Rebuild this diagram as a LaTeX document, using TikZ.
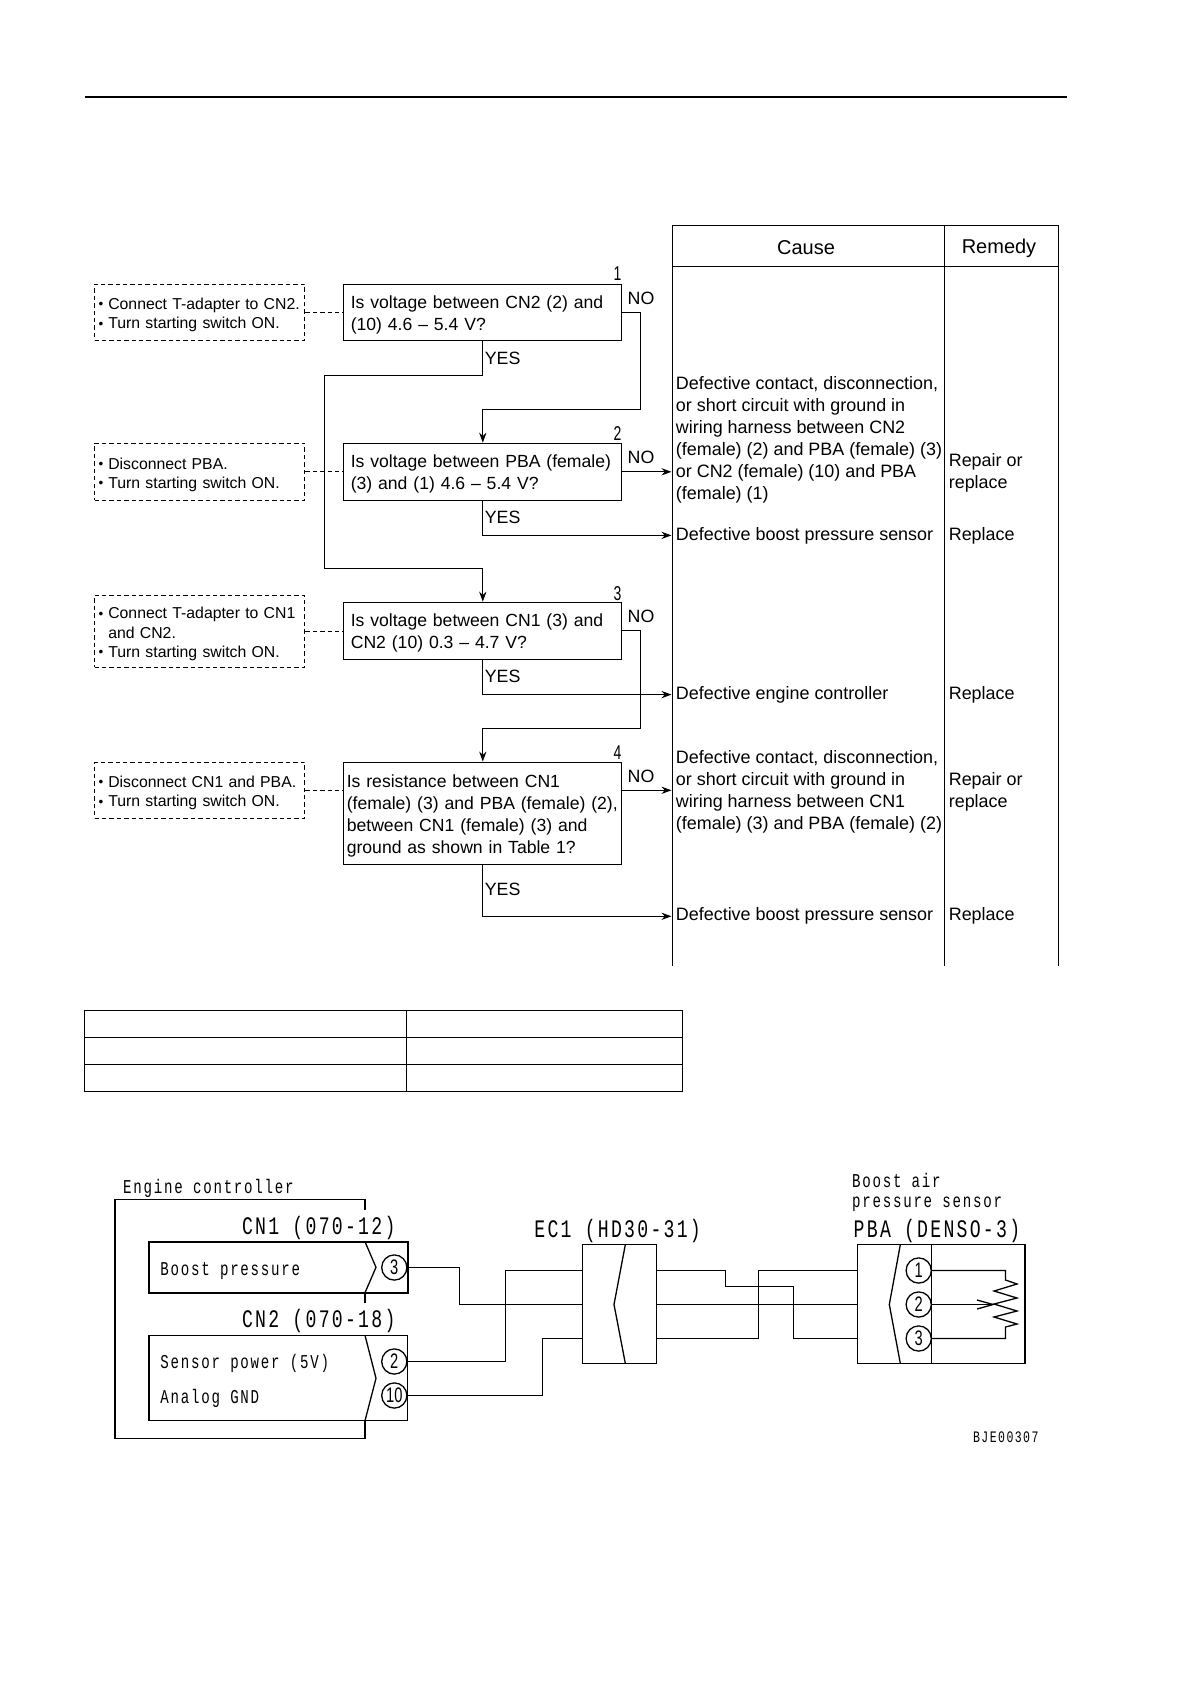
\documentclass[tikz,border=0pt]{standalone}
\usepackage{fontspec}
\setmainfont{Liberation Sans}
\newfontfamily\cadfont[FakeStretch=0.72, LetterSpace=9]{Liberation Mono}
\newfontfamily\numfont[FakeStretch=0.7]{Liberation Sans}
\usepackage{tikz}
\usetikzlibrary{arrows.meta, positioning, calc}
\newcommand{\dotitem}{\makebox[4.8pt][l]{\raisebox{0.3pt}{\scalebox{0.85}{•}}}}
\newcommand{\noitem}{\makebox[4.8pt]{}}
\tikzset{
  question/.style={draw, line width=0.6pt, font=\fontsize{8.8}{11}\selectfont, align=left, text width=132pt, minimum width=139pt, inner xsep=3.5pt, inner ysep=2pt, execute at begin node={\rule{0pt}{8.7pt}}},
  prep/.style={draw, dash pattern=on 2.2pt off 1.5pt, line width=0.5pt, font=\fontsize{7.9}{9.6}\selectfont, align=left, anchor=west, text width=101pt, minimum width=105.2pt, inner xsep=2.1pt, inner ysep=1pt, execute at begin node={\rule{0pt}{8.5pt}}},
  result/.style={anchor=west, font=\fontsize{8.97}{11}\selectfont, align=left, inner sep=2pt, yshift=-0.5pt},
  flow/.style={line width=0.6pt},
  flowarrow/.style={flow, -{Stealth[length=5pt,width=3.6pt]}},
  link/.style={dash pattern=on 2.2pt off 1.5pt, line width=0.5pt},
  answer/.style={font=\fontsize{8.9}{11}\selectfont, inner sep=0pt},
  stepnum/.style={font=\numfont\fontsize{10}{10}\selectfont, inner sep=0pt},
  cadsmall/.style={anchor=west, font=\cadfont\fontsize{9.8}{9.8}\selectfont, inner sep=0pt, text height=6.5pt, text depth=0pt},
  cadbig/.style={anchor=west, font=\cadfont\fontsize{12.6}{12.6}\selectfont, inner sep=0pt, text height=8.3pt, text depth=0pt},
  wire/.style={line width=0.65pt},
  pin/.style={circle, draw, line width=0.65pt, minimum size=12.6pt, inner sep=0pt, font=\numfont\fontsize{10.5}{10.5}\selectfont},
  housing/.style={draw, line width=0.8pt},
}
\begin{document}
\begin{tikzpicture}[x=0.5pt, y=-0.5pt]
  \useasboundingbox (0,0) rectangle (1190,1684);
  % page rule
  \draw[line width=1pt] (84.8,96.7) -- (1066.5,96.7);

  % cause / remedy table
  \draw[line width=0.5pt] (672.4,965.5) -- (672.4,225.5) -- (1058,225.5) -- (1058,965.5);
  \draw[line width=0.5pt] (944,225.5) -- (944,965.5);
  \draw[line width=0.5pt] (672.4,266.4) -- (1058,266.4);
  \node[font=\fontsize{10}{12}\selectfont] (hcause) at (806,247.5) {Cause};
  \node[font=\fontsize{10}{12}\selectfont] (hremedy) at (999,248) {Remedy};

  % questions
  \node[question, minimum height=28pt] (q1) at (482.8,312.3) {Is voltage between CN2 (2) and\\(10) 4.6 -- 5.4 V?};
  \node[question, minimum height=28.5pt] (q2) at (482.8,471.8) {Is voltage between PBA (female)\\(3) and (1) 4.6 -- 5.4 V?};
  \node[question, minimum height=28.5pt] (q3) at (482.8,630.8) {Is voltage between CN1 (3) and\\CN2 (10) 0.3 -- 4.7 V?};
  \node[question, minimum height=51pt, inner xsep=1.5pt, text width=136pt] (q4) at (482.8,813.2) {Is resistance between CN1\\(female) (3) and PBA (female) (2),\\between CN1 (female) (3) and\\ground as shown in Table 1?};

  \node[stepnum] (n1) at (617.6,274) {1};
  \node[stepnum] (n2) at (617.6,434) {2};
  \node[stepnum] (n3) at (617.6,594) {3};
  \node[stepnum] (n4) at (617.6,753) {4};

  % preparations
  \node[prep, minimum height=28pt] (p1) at (94,312.3) {\dotitem Connect T-adapter to CN2.\\\dotitem Turn starting switch ON.};
  \node[prep, minimum height=28.5pt] (p2) at (94,471.8) {\dotitem Disconnect PBA.\\\dotitem Turn starting switch ON.};
  \node[prep, minimum height=36pt] (p3) at (94,631.3) {\dotitem Connect T-adapter to CN1\\\noitem and CN2.\\\dotitem Turn starting switch ON.};
  \node[prep, minimum height=28pt] (p4) at (94,790.3) {\dotitem Disconnect CN1 and PBA.\\\dotitem Turn starting switch ON.};
  \draw[link] (p1.east) -- (q1.west);
  \draw[link] (p2.east) -- (q2.west);
  \draw[link] (p3.east) -- (p3.east -| q3.west);
  \draw[link] (p4.east) -- (p4.east -| q4.west);

  % causes and remedies
  \node[result] (c1) at (671.5,438.5) {Defective contact, disconnection,\\or short circuit with ground in\\wiring harness between CN2\\(female) (2) and PBA (female) (3)\\or CN2 (female) (10) and PBA\\(female) (1)};
  \node[result] (c2) at (671.5,534.4) {Defective boost pressure sensor};
  \node[result] (c3) at (671.5,693.6) {Defective engine controller};
  \node[result] (c4) at (671.5,790.6) {Defective contact, disconnection,\\or short circuit with ground in\\wiring harness between CN1\\(female) (3) and PBA (female) (2)};
  \node[result] (c5) at (671.5,915.3) {Defective boost pressure sensor};
  \node[result] (r1) at (944.4,471.5) {Repair or\\replace};
  \node[result] (r2) at (944.4,534.4) {Replace};
  \node[result] (r3) at (944.4,693.6) {Replace};
  \node[result] (r4) at (944.4,790.6) {Repair or\\replace};
  \node[result] (r5) at (944.4,915.3) {Replace};

  % flow
  \coordinate (nobend1) at (640.7,409.7);
  \coordinate (yesbend1) at (324.4,375.5);
  \coordinate (yesbend2) at (324.4,568.3);
  \coordinate (nobend3) at (640.7,728.3);
  \draw[flowarrow] (q1.east) -| (nobend1) -| (q2.north);
  \draw[flowarrow] (q1.south) |- (yesbend1) -- (yesbend2) -| (q3.north);
  \draw[flowarrow] (q2.east) -- (q2.east -| c1.west);
  \draw[flowarrow] (q2.south) |- (c2.west);
  \draw[flowarrow] (q3.east) -| (nobend3) -| (q4.north);
  \draw[flowarrow] (q3.south) |- (c3.west);
  \draw[flowarrow] (q4.east |- p4.east) -- (p4.east -| c4.west);
  \draw[flowarrow] (q4.south) |- (c5.west);

  \node[answer] (no1) at (641,298.6) {NO};
  \node[answer] (no2) at (641,457.5) {NO};
  \node[answer] (no3) at (641,616.5) {NO};
  \node[answer] (no4) at (641,776.5) {NO};
  \node[answer] (yes1) at (502.6,358.7) {YES};
  \node[answer] (yes2) at (502.6,517.7) {YES};
  \node[answer] (yes3) at (502.6,676.6) {YES};
  \node[answer] (yes4) at (502.6,889) {YES};

  % table 1, cells left empty
  \draw[line width=0.6pt] (84.7,1010.7) rectangle (682.3,1091.3);
  \draw[line width=0.6pt] (84.7,1037.3) -- (682.3,1037.3);
  \draw[line width=0.6pt] (84.7,1064.3) -- (682.3,1064.3);
  \draw[line width=0.6pt] (406.3,1010.7) -- (406.3,1091.3);

  % engine controller
  \node[cadsmall] (ecu) at (122.8,1186.7) {Engine controller};
  \draw[wire] (365,1210) -- (365,1199.3) -- (115,1199.3) -- (115,1438.7) -- (365,1438.7) -- (365,1420.7);
  \draw[wire] (365,1292.7) -- (365,1303.3);
  \node[cadbig] (cn1label) at (241.7,1225.7) {CN1 (070-12)};
  \node[cadbig] (cn2label) at (241.7,1319.3) {CN2 (070-18)};
  \draw[housing] (149,1241.7) rectangle (407.7,1292.7);
  \draw[housing, line width=0.65pt] (149,1335.3) rectangle (407.7,1420.7);
  \draw[wire] (365,1241.7) -- (376,1267.3) -- (365,1292.7);
  \draw[wire] (365,1335.3) -- (376,1378.3) -- (365,1420.7);
  \node[cadsmall] (boost) at (160,1269) {Boost pressure};
  \node[cadsmall] (power) at (160,1362) {Sensor power (5V)};
  \node[cadsmall] (gnd) at (160,1396.7) {Analog GND};
  \node[pin] (cn1p3) at (394.3,1267.5) {3};
  \node[pin] (cn2p2) at (394.3,1361.5) {2};
  \node[pin] (cn2p10) at (394.3,1395.5) {10};

  % connector EC1
  \node[cadbig] (eclabel) at (534,1229) {EC1 (HD30-31)};
  \draw[wire] (582.7,1244.7) rectangle (656.7,1363.3);
  \draw[wire] (625.3,1244.7) -- (614,1304.5) -- (625.3,1363.3);
  \coordinate (ecla) at (582.7,1270.5);
  \coordinate (eclb) at (582.7,1304.5);
  \coordinate (eclc) at (582.7,1338.5);
  \coordinate (ecra) at (656.7,1270.5);
  \coordinate (ecrb) at (656.7,1304.5);
  \coordinate (ecrc) at (656.7,1338.5);

  % sensor
  \node[cadsmall] (sens1) at (851.7,1181) {Boost air};
  \node[cadsmall] (sens2) at (851.7,1201) {pressure sensor};
  \node[cadbig] (pbalabel) at (853.3,1229) {PBA (DENSO-3)};
  \draw[wire] (857.7,1244.7) rectangle (1025,1363.3);
  \draw[wire] (931.7,1244.7) -- (931.7,1363.3);
  \draw[wire] (900.3,1244.7) -- (889.3,1304.5) -- (900.3,1363.3);
  \node[pin] (pbap1) at (918.7,1270.5) {1};
  \node[pin] (pbap2) at (918.7,1304.5) {2};
  \node[pin] (pbap3) at (918.7,1338.5) {3};
  \coordinate (pbala) at (857.7,1270.5);
  \coordinate (pbalb) at (857.7,1304.5);
  \coordinate (pbalc) at (857.7,1338.5);

  % wiring
  \draw[wire] (cn1p3.east) -| (459.5,1304.5) -- (eclb);
  \draw[wire] (cn2p2.east) -| (505.5,1270.5) -- (ecla);
  \draw[wire] (cn2p10.east) -| (542.5,1338.5) -- (eclc);
  \draw[wire] (ecra) -| (725.5,1286.5) -| (793.5,1338.5) -- (pbalc);
  \draw[wire] (ecrb) -- (pbalb);
  \draw[wire] (ecrc) -| (758.5,1270.5) -- (pbala);
  \draw[wire] (pbap1.east) -| (1005.5,1280) -- (1017,1284) -- (994,1291) -- (1017,1298) -- (994,1304) -- (1017,1311) -- (994,1317) -- (1017,1324) -- (1005.5,1327) |- (pbap3.east);
  \draw[wire] (pbap2.east) -- (993,1304.5);
  \draw[wire] (977,1300) -- (993,1304.5) -- (977,1309);

  \node[cadsmall, font=\cadfont\fontsize{8}{8}\selectfont, text height=5.5pt] (code) at (972.7,1437.3) {BJE00307};
\end{tikzpicture}
\end{document}
